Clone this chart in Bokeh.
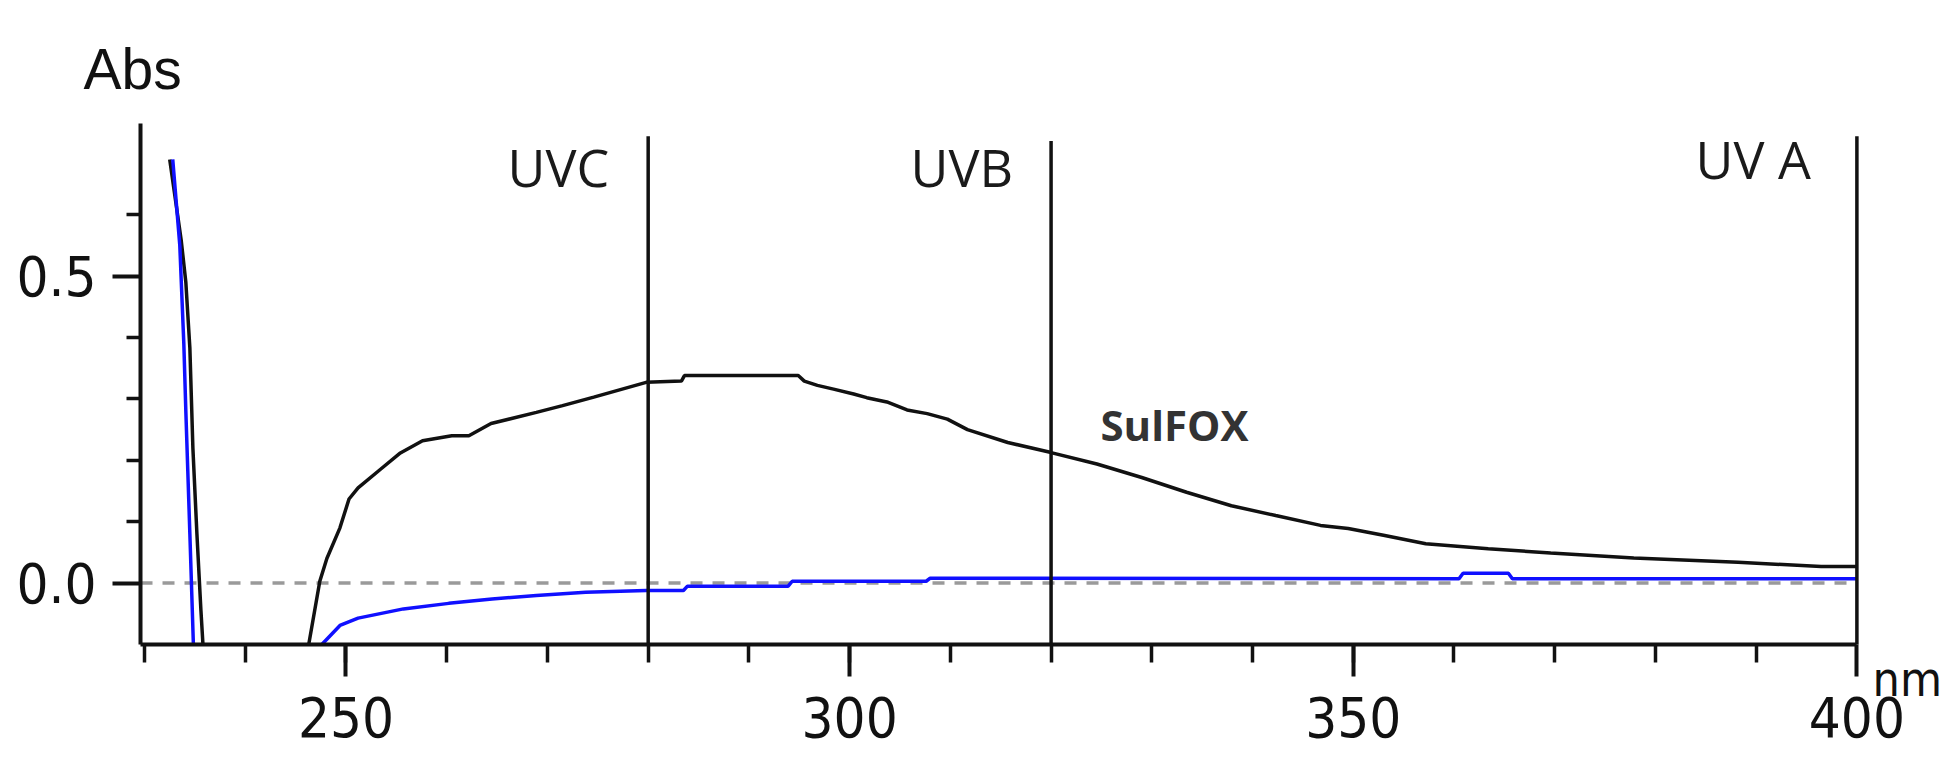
from bokeh.plotting import figure
from bokeh.models import Range1d, FixedTicker, PrintfTickFormatter
from bokeh.embed import file_html
from bokeh.resources import INLINE
from bokeh.core.properties import value

nan = float("nan")

# ---- data ----
x_major = [250, 300, 350, 400]
x_minor = list(range(230, 400, 10))
y_major = [0.0, 0.5]
y_minor = [0.1, 0.2, 0.3, 0.4, 0.6]

# visible axis extents (nm, Abs)
x_axis_start, x_axis_end = 229.6, 400.0
y_axis_start, y_axis_end = -0.1, 0.7485

band_edges = [280, 320, 400]
band_tops = [0.728, 0.72, 0.728]
band_names = ["UVC", "UVB", "UV A"]

# SulFOX spectrum (black); nan = trace off-scale below the axis
sulfox_nm = [232.5, 233.65, 234.1, 234.5, 234.8, 235.2, 235.6, 235.8, 240.0,
             246.3, 247.4, 248.1, 249.4, 250.3, 251.2, 253.4, 255.4, 257.6,
             260.5, 262.2, 264.4, 268.9, 271.5, 274.6, 279.8, 283.3, 283.6, 294.9,
             295.5, 296.8, 298.4, 300.4, 301.7, 303.7, 305.7, 307.7, 309.7, 311.7,
             315.7, 319.9, 324.55, 329.0, 333.45, 337.9, 342.3, 346.75, 349.5, 353.0,
             357.2, 363.4, 369.6, 377.85, 388.2, 396.45, 400.0]
sulfox_abs = [0.69, 0.557, 0.49, 0.383, 0.22, 0.08, -0.045, -0.1, nan,
              -0.1, 0.003, 0.04, 0.09, 0.137, 0.155, 0.185, 0.212, 0.232,
              0.240, 0.240, 0.260, 0.278, 0.289, 0.303, 0.327, 0.329, 0.338, 0.338,
              0.329, 0.322, 0.316, 0.308, 0.302, 0.295, 0.282, 0.276, 0.267, 0.250,
              0.229, 0.213, 0.194, 0.172, 0.148, 0.126, 0.110, 0.094, 0.089, 0.078,
              0.064, 0.056, 0.049, 0.041, 0.034, 0.027, 0.027]

# reference / blank trace (blue)
blank_nm = [232.8, 233.2, 233.5, 233.9, 234.1, 234.5, 234.85, 240.0,
            247.6, 249.4, 251.2, 255.7, 260.2, 264.5, 268.9, 273.8,
            279.8, 283.5, 283.9, 293.9, 294.3, 307.6, 308.0, 360.5, 360.9,
            365.4, 365.8, 400.0]
blank_abs = [0.69, 0.61, 0.55, 0.39, 0.28, 0.08, -0.1, nan,
             -0.1, -0.069, -0.057, -0.042, -0.033, -0.026, -0.020, -0.015,
             -0.012, -0.012, -0.005, -0.005, 0.003, 0.003, 0.008, 0.007, 0.016,
             0.016, 0.007, 0.007]

tick_font = "DejaVu Sans Condensed"
ink = "#111111"

# the frame covers the whole canvas; axes are pinned at fixed data locations
p = figure(frame_width=1954, frame_height=773,
           min_border=0, min_border_left=0, min_border_right=0,
           min_border_top=0, min_border_bottom=0,
           x_range=Range1d(215.70, 409.69), y_range=Range1d(-0.3101, 0.9489),
           output_backend="svg", toolbar_location=None)
p.grid.visible = False
p.outline_line_color = None
p.background_fill_color = "white"
p.border_fill_color = "white"

for ax in (p.xaxis[0], p.yaxis[0]):
    ax.axis_line_width = 4
    ax.axis_line_color = ink
    ax.major_tick_line_width = 4
    ax.major_tick_line_color = ink
    ax.minor_tick_line_width = 3.5
    ax.minor_tick_line_color = ink
    ax.major_tick_in = 0
    ax.minor_tick_in = 0
    ax.major_label_text_font = tick_font
    ax.major_label_text_font_size = "56px"
    ax.major_label_text_color = ink

xa = p.xaxis[0]
xa.fixed_location = y_axis_start
xa.bounds = (x_axis_start, x_axis_end)
xa.ticker = FixedTicker(ticks=x_major, minor_ticks=x_minor)
xa.formatter = PrintfTickFormatter(format="%d")
xa.major_tick_out = 32
xa.minor_tick_out = 18
xa.major_label_standoff = 20

ya = p.yaxis[0]
ya.fixed_location = x_axis_start
ya.bounds = (y_axis_start, y_axis_end)
ya.ticker = FixedTicker(ticks=y_major, minor_ticks=y_minor)
ya.formatter = PrintfTickFormatter(format="%.1f")
ya.major_tick_out = 28
ya.minor_tick_out = 14
ya.major_label_standoff = 16

# dashed zero line
p.segment(x0=[x_axis_start], y0=[0.0], x1=[x_axis_end], y1=[0.0],
          line_color="#9a9a9a", line_width=3.5, line_dash="12 10")

p.line(sulfox_nm, sulfox_abs, line_color="#111111", line_width=3.5)
p.line(blank_nm, blank_abs, line_color="#1010ff", line_width=3.5)

p.segment(x0=band_edges, y0=[y_axis_start] * len(band_edges), x1=band_edges, y1=band_tops,
          line_color=ink, line_width=3.5)

p.text(x=band_edges, y=[0.679, 0.679, 0.692], text=band_names,
       text_font=value("Open Sans"), text_font_size="52px", text_color="#1a1a1a",
       text_align="right", text_baseline="alphabetic", x_offset=[-39, -38, -46])

p.text(x=[324.9], y=[0.259], text=["SulFOX"], text_font=value("Open Sans"),
       text_font_style="bold", text_font_size="42px", text_color="#333333",
       text_baseline="alphabetic")
p.text(x=[223.94], y=[0.8375], text=["Abs"], text_font=value("Liberation Sans"),
       text_font_size="57px", text_color=ink, text_baseline="alphabetic")
p.text(x=[401.55], y=[-0.156], text=["nm"], text_font=value(tick_font),
       text_font_size="48px", text_color=ink, text_baseline="alphabetic")

open("out.html", "w").write(file_html(p, INLINE))
